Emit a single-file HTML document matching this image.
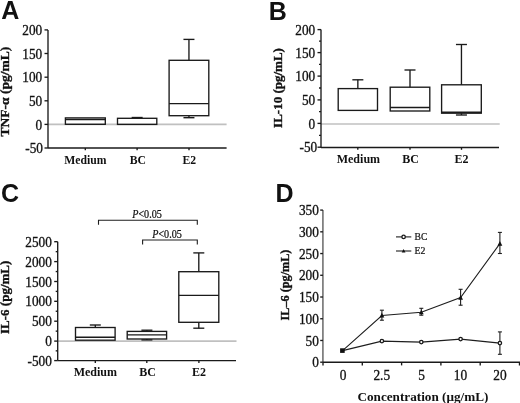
<!DOCTYPE html>
<html><head><meta charset="utf-8"><style>
html,body{margin:0;padding:0;background:#fff;width:520px;height:403px;overflow:hidden;}
svg{display:block;will-change:transform;}
text{fill:#111;}
</style></head><body>
<svg width="520" height="403" viewBox="0 0 520 403">
<text x="1.3" y="18.7" font-family="'Liberation Sans', sans-serif" font-size="25" text-anchor="start" font-weight="bold"  >A</text>
<line x1="48" y1="124.4" x2="226.6" y2="124.4" stroke="#c0c0c0" stroke-width="1.7"/>
<line x1="48" y1="29.9" x2="48" y2="148.0" stroke="#1a1a1a" stroke-width="1.35"/>
<line x1="44.5" y1="29.9" x2="48" y2="29.9" stroke="#1a1a1a" stroke-width="1.35"/>
<text transform="translate(42.2,35.0) scale(1.0,1.06)" font-family="'Liberation Serif', serif" font-size="13.3" text-anchor="end" font-weight="normal"  stroke="#111" stroke-width="0.3">200</text>
<line x1="44.5" y1="53.5" x2="48" y2="53.5" stroke="#1a1a1a" stroke-width="1.35"/>
<text transform="translate(42.2,58.6) scale(1.0,1.06)" font-family="'Liberation Serif', serif" font-size="13.3" text-anchor="end" font-weight="normal"  stroke="#111" stroke-width="0.3">150</text>
<line x1="44.5" y1="77.2" x2="48" y2="77.2" stroke="#1a1a1a" stroke-width="1.35"/>
<text transform="translate(42.2,82.3) scale(1.0,1.06)" font-family="'Liberation Serif', serif" font-size="13.3" text-anchor="end" font-weight="normal"  stroke="#111" stroke-width="0.3">100</text>
<line x1="44.5" y1="100.8" x2="48" y2="100.8" stroke="#1a1a1a" stroke-width="1.35"/>
<text transform="translate(42.2,105.89999999999999) scale(1.0,1.06)" font-family="'Liberation Serif', serif" font-size="13.3" text-anchor="end" font-weight="normal"  stroke="#111" stroke-width="0.3">50</text>
<line x1="44.5" y1="124.4" x2="48" y2="124.4" stroke="#1a1a1a" stroke-width="1.35"/>
<text transform="translate(42.2,129.5) scale(1.0,1.06)" font-family="'Liberation Serif', serif" font-size="13.3" text-anchor="end" font-weight="normal"  stroke="#111" stroke-width="0.3">0</text>
<line x1="44.5" y1="148.0" x2="48" y2="148.0" stroke="#1a1a1a" stroke-width="1.35"/>
<text transform="translate(43.0,153.1) scale(1.0,1.06)" font-family="'Liberation Serif', serif" font-size="13.3" text-anchor="end" font-weight="normal"  stroke="#111" stroke-width="0.3">-50</text>
<line x1="48" y1="148.0" x2="226.6" y2="148.0" stroke="#1a1a1a" stroke-width="1.35"/>
<line x1="85.3" y1="148.0" x2="85.3" y2="150.2" stroke="#1a1a1a" stroke-width="1.35"/>
<line x1="137.1" y1="148.0" x2="137.1" y2="150.2" stroke="#1a1a1a" stroke-width="1.35"/>
<line x1="189" y1="148.0" x2="189" y2="150.2" stroke="#1a1a1a" stroke-width="1.35"/>
<rect x="65.4" y="117.9" width="39.89999999999999" height="6.3999999999999915" fill="none" stroke="#1a1a1a" stroke-width="1.35"/>
<line x1="65.4" y1="119.5" x2="105.3" y2="119.5" stroke="#1a1a1a" stroke-width="1.35"/>
<line x1="137.15" y1="117.5" x2="137.15" y2="118.3" stroke="#1a1a1a" stroke-width="1.35"/>
<line x1="131.65" y1="117.5" x2="142.65" y2="117.5" stroke="#1a1a1a" stroke-width="1.35"/>
<rect x="117.5" y="118.3" width="39.30000000000001" height="6.1000000000000085" fill="none" stroke="#1a1a1a" stroke-width="1.35"/>
<line x1="188.95" y1="39.4" x2="188.95" y2="60.3" stroke="#1a1a1a" stroke-width="1.35"/>
<line x1="183.45" y1="39.4" x2="194.45" y2="39.4" stroke="#1a1a1a" stroke-width="1.35"/>
<line x1="188.95" y1="115.7" x2="188.95" y2="117.7" stroke="#1a1a1a" stroke-width="1.35"/>
<line x1="183.45" y1="117.7" x2="194.45" y2="117.7" stroke="#1a1a1a" stroke-width="1.35"/>
<rect x="169.1" y="60.3" width="39.70000000000002" height="55.400000000000006" fill="none" stroke="#1a1a1a" stroke-width="1.35"/>
<line x1="169.1" y1="103.6" x2="208.8" y2="103.6" stroke="#1a1a1a" stroke-width="1.35"/>
<text x="85.3" y="163.7" font-family="'Liberation Serif', serif" font-size="11.7" text-anchor="middle" font-weight="bold"  >Medium</text>
<text x="137.9" y="163.7" font-family="'Liberation Serif', serif" font-size="11.7" text-anchor="middle" font-weight="bold"  >BC</text>
<text x="189.2" y="163.7" font-family="'Liberation Serif', serif" font-size="11.7" text-anchor="middle" font-weight="bold"  >E2</text>
<text transform="translate(9.0,91.6) rotate(-90)" font-family="'Liberation Serif', serif" font-size="13.5" font-weight="bold" text-anchor="middle" stroke="#111" stroke-width="0.35">TNF-α (pg/mL)</text>
<text x="268.8" y="20.3" font-family="'Liberation Sans', sans-serif" font-size="25" text-anchor="start" font-weight="bold"  >B</text>
<line x1="321" y1="124.0" x2="499.7" y2="124.0" stroke="#c0c0c0" stroke-width="1.7"/>
<line x1="321" y1="29.6" x2="321" y2="147.5" stroke="#1a1a1a" stroke-width="1.35"/>
<line x1="317.5" y1="29.6" x2="321" y2="29.6" stroke="#1a1a1a" stroke-width="1.35"/>
<text transform="translate(315.2,34.7) scale(1.0,1.06)" font-family="'Liberation Serif', serif" font-size="13.3" text-anchor="end" font-weight="normal"  stroke="#111" stroke-width="0.3">200</text>
<line x1="317.5" y1="52.6" x2="321" y2="52.6" stroke="#1a1a1a" stroke-width="1.35"/>
<text transform="translate(315.2,57.7) scale(1.0,1.06)" font-family="'Liberation Serif', serif" font-size="13.3" text-anchor="end" font-weight="normal"  stroke="#111" stroke-width="0.3">150</text>
<line x1="317.5" y1="76.1" x2="321" y2="76.1" stroke="#1a1a1a" stroke-width="1.35"/>
<text transform="translate(315.2,81.19999999999999) scale(1.0,1.06)" font-family="'Liberation Serif', serif" font-size="13.3" text-anchor="end" font-weight="normal"  stroke="#111" stroke-width="0.3">100</text>
<line x1="317.5" y1="99.9" x2="321" y2="99.9" stroke="#1a1a1a" stroke-width="1.35"/>
<text transform="translate(315.2,105.0) scale(1.0,1.06)" font-family="'Liberation Serif', serif" font-size="13.3" text-anchor="end" font-weight="normal"  stroke="#111" stroke-width="0.3">50</text>
<line x1="317.5" y1="123.4" x2="321" y2="123.4" stroke="#1a1a1a" stroke-width="1.35"/>
<text transform="translate(315.2,128.5) scale(1.0,1.06)" font-family="'Liberation Serif', serif" font-size="13.3" text-anchor="end" font-weight="normal"  stroke="#111" stroke-width="0.3">0</text>
<line x1="317.5" y1="147.2" x2="321" y2="147.2" stroke="#1a1a1a" stroke-width="1.35"/>
<text transform="translate(317.2,152.29999999999998) scale(1.0,1.06)" font-family="'Liberation Serif', serif" font-size="13.3" text-anchor="end" font-weight="normal"  stroke="#111" stroke-width="0.3">-50</text>
<line x1="319" y1="41.1" x2="321" y2="41.1" stroke="#1a1a1a" stroke-width="1.35"/>
<line x1="319" y1="64.35" x2="321" y2="64.35" stroke="#1a1a1a" stroke-width="1.35"/>
<line x1="319" y1="88.0" x2="321" y2="88.0" stroke="#1a1a1a" stroke-width="1.35"/>
<line x1="319" y1="111.65" x2="321" y2="111.65" stroke="#1a1a1a" stroke-width="1.35"/>
<line x1="319" y1="135.3" x2="321" y2="135.3" stroke="#1a1a1a" stroke-width="1.35"/>
<line x1="321" y1="147.5" x2="499" y2="147.5" stroke="#1a1a1a" stroke-width="1.35"/>
<line x1="357.8" y1="147.5" x2="357.8" y2="149.8" stroke="#1a1a1a" stroke-width="1.35"/>
<line x1="410" y1="147.5" x2="410" y2="149.8" stroke="#1a1a1a" stroke-width="1.35"/>
<line x1="461.5" y1="147.5" x2="461.5" y2="149.8" stroke="#1a1a1a" stroke-width="1.35"/>
<line x1="357.85" y1="79.8" x2="357.85" y2="88.6" stroke="#1a1a1a" stroke-width="1.35"/>
<line x1="352.35" y1="79.8" x2="363.35" y2="79.8" stroke="#1a1a1a" stroke-width="1.35"/>
<rect x="338.2" y="88.6" width="39.30000000000001" height="21.80000000000001" fill="none" stroke="#1a1a1a" stroke-width="1.35"/>
<line x1="410.0" y1="70.0" x2="410.0" y2="87.2" stroke="#1a1a1a" stroke-width="1.35"/>
<line x1="404.5" y1="70.0" x2="415.5" y2="70.0" stroke="#1a1a1a" stroke-width="1.35"/>
<rect x="390.2" y="87.2" width="39.60000000000002" height="23.799999999999997" fill="none" stroke="#1a1a1a" stroke-width="1.35"/>
<line x1="390.2" y1="107.5" x2="429.8" y2="107.5" stroke="#1a1a1a" stroke-width="1.35"/>
<line x1="461.45000000000005" y1="44.5" x2="461.45000000000005" y2="84.8" stroke="#1a1a1a" stroke-width="1.35"/>
<line x1="455.95000000000005" y1="44.5" x2="466.95000000000005" y2="44.5" stroke="#1a1a1a" stroke-width="1.35"/>
<line x1="461.45000000000005" y1="113.2" x2="461.45000000000005" y2="115" stroke="#1a1a1a" stroke-width="1.35"/>
<line x1="455.95000000000005" y1="115" x2="466.95000000000005" y2="115" stroke="#1a1a1a" stroke-width="1.35"/>
<rect x="441.6" y="84.8" width="39.69999999999999" height="28.400000000000006" fill="none" stroke="#1a1a1a" stroke-width="1.35"/>
<line x1="441.6" y1="112.2" x2="481.3" y2="112.2" stroke="#1a1a1a" stroke-width="1.35"/>
<text x="358.4" y="163.0" font-family="'Liberation Serif', serif" font-size="12" text-anchor="middle" font-weight="bold"  >Medium</text>
<text x="410.5" y="163.0" font-family="'Liberation Serif', serif" font-size="12" text-anchor="middle" font-weight="bold"  >BC</text>
<text x="461.5" y="163.0" font-family="'Liberation Serif', serif" font-size="12" text-anchor="middle" font-weight="bold"  >E2</text>
<text transform="translate(281.9,88) rotate(-90)" font-family="'Liberation Serif', serif" font-size="13" font-weight="bold" text-anchor="middle" stroke="#111" stroke-width="0.35">IL-10 (pg/mL)</text>
<text x="0.9" y="201.7" font-family="'Liberation Sans', sans-serif" font-size="25" text-anchor="start" font-weight="bold"  >C</text>
<line x1="57.7" y1="341.1" x2="236.5" y2="341.1" stroke="#c0c0c0" stroke-width="1.7"/>
<line x1="57.7" y1="241.7" x2="57.7" y2="360.6" stroke="#1a1a1a" stroke-width="1.35"/>
<line x1="54.2" y1="241.7" x2="57.7" y2="241.7" stroke="#1a1a1a" stroke-width="1.35"/>
<text transform="translate(51.900000000000006,246.79999999999998) scale(1.0,1.06)" font-family="'Liberation Serif', serif" font-size="13.3" text-anchor="end" font-weight="normal"  stroke="#111" stroke-width="0.3">2500</text>
<line x1="54.2" y1="261.6" x2="57.7" y2="261.6" stroke="#1a1a1a" stroke-width="1.35"/>
<text transform="translate(51.900000000000006,266.70000000000005) scale(1.0,1.06)" font-family="'Liberation Serif', serif" font-size="13.3" text-anchor="end" font-weight="normal"  stroke="#111" stroke-width="0.3">2000</text>
<line x1="54.2" y1="281.5" x2="57.7" y2="281.5" stroke="#1a1a1a" stroke-width="1.35"/>
<text transform="translate(51.900000000000006,286.6) scale(1.0,1.06)" font-family="'Liberation Serif', serif" font-size="13.3" text-anchor="end" font-weight="normal"  stroke="#111" stroke-width="0.3">1500</text>
<line x1="54.2" y1="301.3" x2="57.7" y2="301.3" stroke="#1a1a1a" stroke-width="1.35"/>
<text transform="translate(51.900000000000006,306.40000000000003) scale(1.0,1.06)" font-family="'Liberation Serif', serif" font-size="13.3" text-anchor="end" font-weight="normal"  stroke="#111" stroke-width="0.3">1000</text>
<line x1="54.2" y1="321.2" x2="57.7" y2="321.2" stroke="#1a1a1a" stroke-width="1.35"/>
<text transform="translate(51.900000000000006,326.3) scale(1.0,1.06)" font-family="'Liberation Serif', serif" font-size="13.3" text-anchor="end" font-weight="normal"  stroke="#111" stroke-width="0.3">500</text>
<line x1="54.2" y1="341.1" x2="57.7" y2="341.1" stroke="#1a1a1a" stroke-width="1.35"/>
<text transform="translate(51.900000000000006,346.20000000000005) scale(1.0,1.06)" font-family="'Liberation Serif', serif" font-size="13.3" text-anchor="end" font-weight="normal"  stroke="#111" stroke-width="0.3">0</text>
<line x1="54.2" y1="360.6" x2="57.7" y2="360.6" stroke="#1a1a1a" stroke-width="1.35"/>
<text transform="translate(51.900000000000006,365.70000000000005) scale(1.0,1.06)" font-family="'Liberation Serif', serif" font-size="13.3" text-anchor="end" font-weight="normal"  stroke="#111" stroke-width="0.3">-500</text>
<line x1="55.7" y1="251.65" x2="57.7" y2="251.65" stroke="#1a1a1a" stroke-width="1.35"/>
<line x1="55.7" y1="271.55" x2="57.7" y2="271.55" stroke="#1a1a1a" stroke-width="1.35"/>
<line x1="55.7" y1="291.4" x2="57.7" y2="291.4" stroke="#1a1a1a" stroke-width="1.35"/>
<line x1="55.7" y1="311.25" x2="57.7" y2="311.25" stroke="#1a1a1a" stroke-width="1.35"/>
<line x1="55.7" y1="331.15" x2="57.7" y2="331.15" stroke="#1a1a1a" stroke-width="1.35"/>
<line x1="55.7" y1="350.85" x2="57.7" y2="350.85" stroke="#1a1a1a" stroke-width="1.35"/>
<line x1="57.7" y1="360.6" x2="236" y2="360.6" stroke="#1a1a1a" stroke-width="1.35"/>
<line x1="95.3" y1="360.6" x2="95.3" y2="362.9" stroke="#1a1a1a" stroke-width="1.35"/>
<line x1="146.8" y1="360.6" x2="146.8" y2="362.9" stroke="#1a1a1a" stroke-width="1.35"/>
<line x1="198.9" y1="360.6" x2="198.9" y2="362.9" stroke="#1a1a1a" stroke-width="1.35"/>
<line x1="95.3" y1="325.0" x2="95.3" y2="327.5" stroke="#1a1a1a" stroke-width="1.35"/>
<line x1="89.8" y1="325.0" x2="100.8" y2="325.0" stroke="#1a1a1a" stroke-width="1.35"/>
<rect x="75.5" y="327.5" width="39.599999999999994" height="12.699999999999989" fill="none" stroke="#1a1a1a" stroke-width="1.35"/>
<line x1="75.5" y1="337.2" x2="115.1" y2="337.2" stroke="#1a1a1a" stroke-width="1.35"/>
<line x1="146.9" y1="330.2" x2="146.9" y2="331.4" stroke="#1a1a1a" stroke-width="1.35"/>
<line x1="141.4" y1="330.2" x2="152.4" y2="330.2" stroke="#1a1a1a" stroke-width="1.35"/>
<line x1="146.9" y1="339.0" x2="146.9" y2="339.9" stroke="#1a1a1a" stroke-width="1.35"/>
<line x1="141.4" y1="339.9" x2="152.4" y2="339.9" stroke="#1a1a1a" stroke-width="1.35"/>
<rect x="127.2" y="331.4" width="39.39999999999999" height="7.600000000000023" fill="none" stroke="#1a1a1a" stroke-width="1.35"/>
<line x1="127.2" y1="334.9" x2="166.6" y2="334.9" stroke="#1a1a1a" stroke-width="1.35"/>
<line x1="198.8" y1="252.9" x2="198.8" y2="271.7" stroke="#1a1a1a" stroke-width="1.35"/>
<line x1="193.3" y1="252.9" x2="204.3" y2="252.9" stroke="#1a1a1a" stroke-width="1.35"/>
<line x1="198.8" y1="322.3" x2="198.8" y2="328.2" stroke="#1a1a1a" stroke-width="1.35"/>
<line x1="193.3" y1="328.2" x2="204.3" y2="328.2" stroke="#1a1a1a" stroke-width="1.35"/>
<rect x="178.8" y="271.7" width="40.0" height="50.60000000000002" fill="none" stroke="#1a1a1a" stroke-width="1.35"/>
<line x1="178.8" y1="295.4" x2="218.8" y2="295.4" stroke="#1a1a1a" stroke-width="1.35"/>
<text x="95.3" y="376" font-family="'Liberation Serif', serif" font-size="12" text-anchor="middle" font-weight="bold"  >Medium</text>
<text x="147.5" y="376" font-family="'Liberation Serif', serif" font-size="12" text-anchor="middle" font-weight="bold"  >BC</text>
<text x="198.9" y="376" font-family="'Liberation Serif', serif" font-size="12" text-anchor="middle" font-weight="bold"  >E2</text>
<text transform="translate(9.0,297.3) rotate(-90)" font-family="'Liberation Serif', serif" font-size="13" font-weight="bold" text-anchor="middle" stroke="#111" stroke-width="0.35">IL-6 (pg/mL)</text>
<polyline points="98.5,224.7 98.5,220.3 197.3,220.3 197.3,224.7" fill="none" stroke="#1e1e1e" stroke-width="1.1"/>
<polyline points="142.6,244.5 142.6,240 197.3,240 197.3,244.5" fill="none" stroke="#1e1e1e" stroke-width="1.1"/>
<text transform="translate(147.0,217.8) scale(0.88,1)" font-family="'Liberation Serif', serif" font-size="11.5" text-anchor="middle" font-weight="normal"  stroke="#111" stroke-width="0.25"><tspan font-style="italic">P</tspan>&lt;0.05</text>
<text transform="translate(167.0,237.6) scale(0.88,1)" font-family="'Liberation Serif', serif" font-size="11.5" text-anchor="middle" font-weight="normal"  stroke="#111" stroke-width="0.25"><tspan font-style="italic">P</tspan>&lt;0.05</text>
<text x="275.6" y="201.8" font-family="'Liberation Sans', sans-serif" font-size="25" text-anchor="start" font-weight="bold"  >D</text>
<line x1="322.9" y1="210.1" x2="322.9" y2="362.2" stroke="#7a7a7a" stroke-width="1.7"/>
<line x1="320.2" y1="210.08999999999997" x2="322.9" y2="210.08999999999997" stroke="#1a1a1a" stroke-width="1.35"/>
<text transform="translate(318.9,215.18999999999997) scale(1.0,1.06)" font-family="'Liberation Serif', serif" font-size="13.3" text-anchor="end" font-weight="normal"  stroke="#111" stroke-width="0.3">350</text>
<line x1="320.2" y1="231.82" x2="322.9" y2="231.82" stroke="#1a1a1a" stroke-width="1.35"/>
<text transform="translate(318.9,236.92) scale(1.0,1.06)" font-family="'Liberation Serif', serif" font-size="13.3" text-anchor="end" font-weight="normal"  stroke="#111" stroke-width="0.3">300</text>
<line x1="320.2" y1="253.54999999999998" x2="322.9" y2="253.54999999999998" stroke="#1a1a1a" stroke-width="1.35"/>
<text transform="translate(318.9,258.65) scale(1.0,1.06)" font-family="'Liberation Serif', serif" font-size="13.3" text-anchor="end" font-weight="normal"  stroke="#111" stroke-width="0.3">250</text>
<line x1="320.2" y1="275.28" x2="322.9" y2="275.28" stroke="#1a1a1a" stroke-width="1.35"/>
<text transform="translate(318.9,280.38) scale(1.0,1.06)" font-family="'Liberation Serif', serif" font-size="13.3" text-anchor="end" font-weight="normal"  stroke="#111" stroke-width="0.3">200</text>
<line x1="320.2" y1="297.01" x2="322.9" y2="297.01" stroke="#1a1a1a" stroke-width="1.35"/>
<text transform="translate(318.9,302.11) scale(1.0,1.06)" font-family="'Liberation Serif', serif" font-size="13.3" text-anchor="end" font-weight="normal"  stroke="#111" stroke-width="0.3">150</text>
<line x1="320.2" y1="318.74" x2="322.9" y2="318.74" stroke="#1a1a1a" stroke-width="1.35"/>
<text transform="translate(318.9,323.84000000000003) scale(1.0,1.06)" font-family="'Liberation Serif', serif" font-size="13.3" text-anchor="end" font-weight="normal"  stroke="#111" stroke-width="0.3">100</text>
<line x1="320.2" y1="340.46999999999997" x2="322.9" y2="340.46999999999997" stroke="#1a1a1a" stroke-width="1.35"/>
<text transform="translate(318.9,345.57) scale(1.0,1.06)" font-family="'Liberation Serif', serif" font-size="13.3" text-anchor="end" font-weight="normal"  stroke="#111" stroke-width="0.3">50</text>
<line x1="320.2" y1="362.2" x2="322.9" y2="362.2" stroke="#1a1a1a" stroke-width="1.35"/>
<text transform="translate(318.9,367.3) scale(1.0,1.06)" font-family="'Liberation Serif', serif" font-size="13.3" text-anchor="end" font-weight="normal"  stroke="#111" stroke-width="0.3">0</text>
<line x1="322.9" y1="362.2" x2="520" y2="362.2" stroke="#1a1a1a" stroke-width="1.35"/>
<line x1="323" y1="362.2" x2="323" y2="365.4" stroke="#1a1a1a" stroke-width="1.35"/>
<line x1="362.3" y1="362.2" x2="362.3" y2="365.4" stroke="#1a1a1a" stroke-width="1.35"/>
<line x1="401.6" y1="362.2" x2="401.6" y2="365.4" stroke="#1a1a1a" stroke-width="1.35"/>
<line x1="440.9" y1="362.2" x2="440.9" y2="365.4" stroke="#1a1a1a" stroke-width="1.35"/>
<line x1="480.2" y1="362.2" x2="480.2" y2="365.4" stroke="#1a1a1a" stroke-width="1.35"/>
<line x1="519.5" y1="362.2" x2="519.5" y2="365.4" stroke="#1a1a1a" stroke-width="1.35"/>
<text transform="translate(343.0,380.2) scale(1,1.05)" font-family="'Liberation Serif', serif" font-size="13.4" text-anchor="middle" font-weight="normal"  stroke="#111" stroke-width="0.3">0</text>
<text transform="translate(381.8,380.2) scale(1,1.05)" font-family="'Liberation Serif', serif" font-size="13.4" text-anchor="middle" font-weight="normal"  stroke="#111" stroke-width="0.3">2.5</text>
<text transform="translate(421.6,380.2) scale(1,1.05)" font-family="'Liberation Serif', serif" font-size="13.4" text-anchor="middle" font-weight="normal"  stroke="#111" stroke-width="0.3">5</text>
<text transform="translate(460.5,380.2) scale(1,1.05)" font-family="'Liberation Serif', serif" font-size="13.4" text-anchor="middle" font-weight="normal"  stroke="#111" stroke-width="0.3">10</text>
<text transform="translate(499.9,380.2) scale(1,1.05)" font-family="'Liberation Serif', serif" font-size="13.4" text-anchor="middle" font-weight="normal"  stroke="#111" stroke-width="0.3">20</text>
<text x="422.9" y="400.9" font-family="'Liberation Serif', serif" font-size="13.2" text-anchor="middle" font-weight="bold"  >Concentration (μg/mL)</text>
<text transform="translate(288.5,285) rotate(-90)" font-family="'Liberation Serif', serif" font-size="12.2" font-weight="bold" text-anchor="middle" stroke="#111" stroke-width="0.35">IL–6 (pg/mL)</text>
<polyline points="342.6,350.6 381.9,315.5 421.3,312.3 460.6,297.6 499.9,243.6" fill="none" stroke="#1e1e1e" stroke-width="1.1"/>
<polyline points="342.6,350.6 381.9,341.1 421.3,342.1 460.6,339.1 499.9,343.1" fill="none" stroke="#1e1e1e" stroke-width="1.1"/>
<line x1="381.9" y1="310.2" x2="381.9" y2="320.2" stroke="#1e1e1e" stroke-width="1.1"/>
<line x1="379.9" y1="310.2" x2="383.9" y2="310.2" stroke="#1e1e1e" stroke-width="1.1"/>
<line x1="379.9" y1="320.2" x2="383.9" y2="320.2" stroke="#1e1e1e" stroke-width="1.1"/>
<line x1="421.3" y1="308.3" x2="421.3" y2="315.2" stroke="#1e1e1e" stroke-width="1.1"/>
<line x1="419.3" y1="308.3" x2="423.3" y2="308.3" stroke="#1e1e1e" stroke-width="1.1"/>
<line x1="419.3" y1="315.2" x2="423.3" y2="315.2" stroke="#1e1e1e" stroke-width="1.1"/>
<line x1="460.6" y1="289.3" x2="460.6" y2="305.2" stroke="#1e1e1e" stroke-width="1.1"/>
<line x1="458.6" y1="289.3" x2="462.6" y2="289.3" stroke="#1e1e1e" stroke-width="1.1"/>
<line x1="458.6" y1="305.2" x2="462.6" y2="305.2" stroke="#1e1e1e" stroke-width="1.1"/>
<line x1="499.9" y1="232.4" x2="499.9" y2="253.5" stroke="#1e1e1e" stroke-width="1.1"/>
<line x1="497.9" y1="232.4" x2="501.9" y2="232.4" stroke="#1e1e1e" stroke-width="1.1"/>
<line x1="497.9" y1="253.5" x2="501.9" y2="253.5" stroke="#1e1e1e" stroke-width="1.1"/>
<line x1="499.9" y1="331.9" x2="499.9" y2="354.3" stroke="#1e1e1e" stroke-width="1.1"/>
<line x1="497.9" y1="331.9" x2="501.9" y2="331.9" stroke="#1e1e1e" stroke-width="1.1"/>
<line x1="497.9" y1="354.3" x2="501.9" y2="354.3" stroke="#1e1e1e" stroke-width="1.1"/>
<circle cx="381.9" cy="341.1" r="1.7" fill="#fff" stroke="#1a1a1a" stroke-width="1.3"/>
<circle cx="421.3" cy="342.1" r="1.7" fill="#fff" stroke="#1a1a1a" stroke-width="1.3"/>
<circle cx="460.6" cy="339.1" r="1.7" fill="#fff" stroke="#1a1a1a" stroke-width="1.3"/>
<circle cx="499.9" cy="343.1" r="1.7" fill="#fff" stroke="#1a1a1a" stroke-width="1.3"/>
<polygon points="379.5,317.54 384.29999999999995,317.54 381.9,312.86" fill="#111"/>
<polygon points="418.90000000000003,314.34000000000003 423.7,314.34000000000003 421.3,309.66" fill="#111"/>
<polygon points="458.20000000000005,299.64000000000004 463.0,299.64000000000004 460.6,294.96000000000004" fill="#111"/>
<polygon points="497.5,245.64 502.29999999999995,245.64 499.9,240.96" fill="#111"/>
<rect x="340.1" y="348.3" width="4.6" height="4.6" fill="#111"/>
<line x1="396" y1="236.9" x2="411.3" y2="236.9" stroke="#1e1e1e" stroke-width="1.1"/>
<circle cx="403.6" cy="236.9" r="1.7" fill="#fff" stroke="#1a1a1a" stroke-width="1.3"/>
<line x1="396" y1="251" x2="411.3" y2="251" stroke="#1e1e1e" stroke-width="1.1"/>
<polygon points="401.70000000000005,252.615 405.5,252.615 403.6,248.91" fill="#111"/>
<text x="414.6" y="240.4" font-family="'Liberation Serif', serif" font-size="9.6" text-anchor="start" font-weight="normal"  stroke="#111" stroke-width="0.2">BC</text>
<text x="414.6" y="254.3" font-family="'Liberation Serif', serif" font-size="9.8" text-anchor="start" font-weight="normal"  stroke="#111" stroke-width="0.2">E2</text>
</svg>
</body></html>
